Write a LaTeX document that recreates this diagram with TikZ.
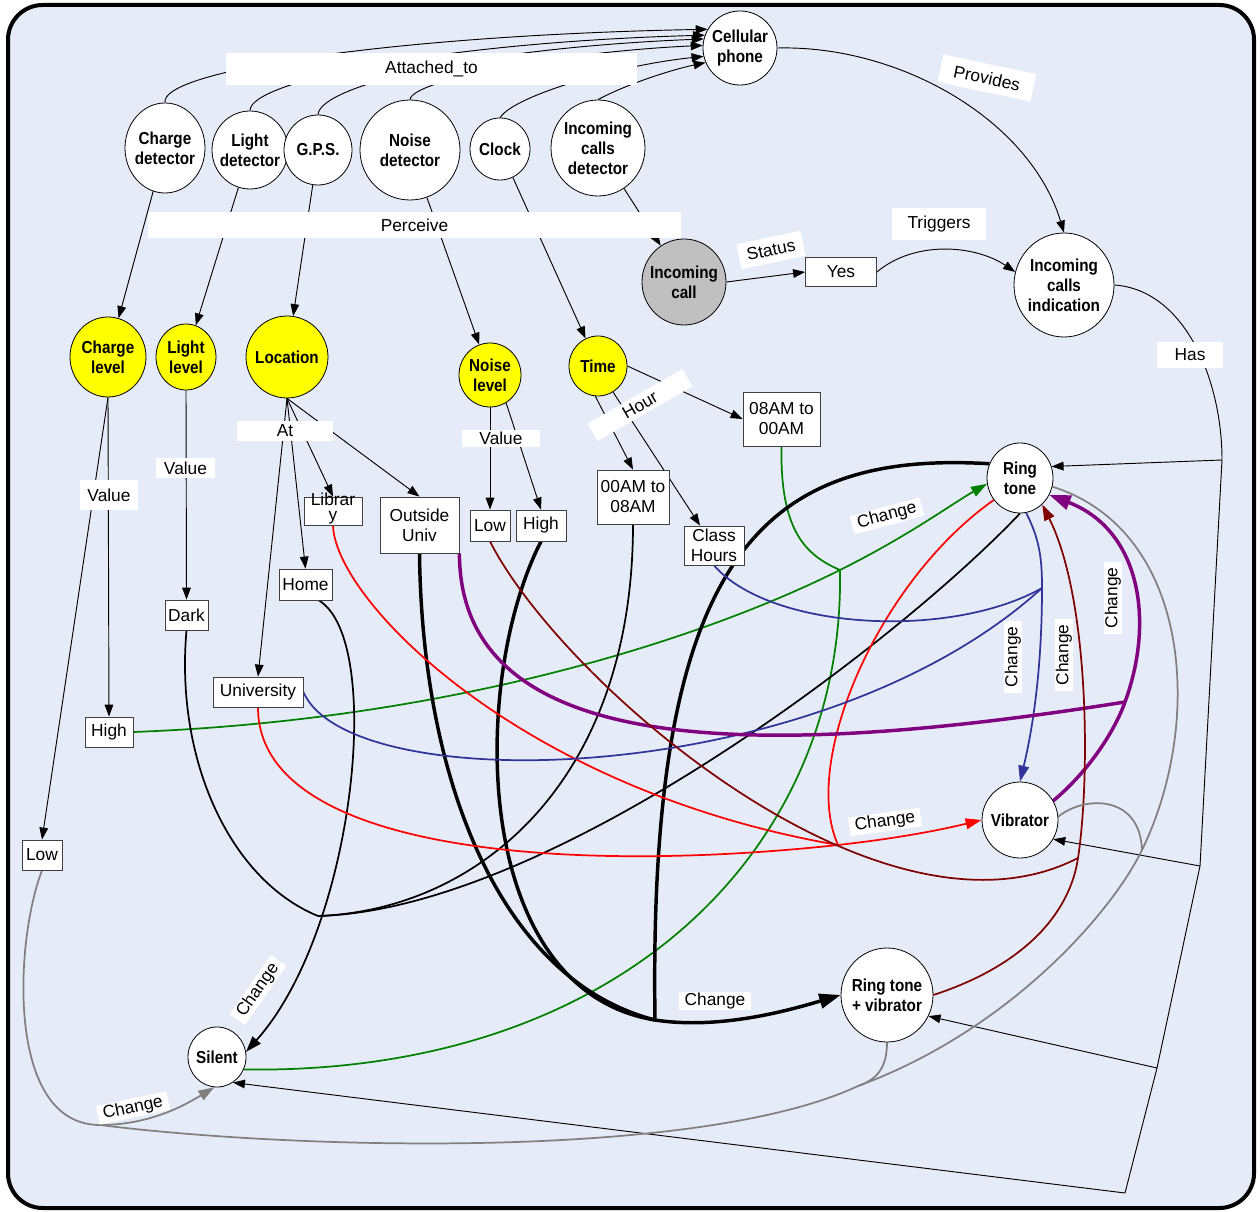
\documentclass[tikz,border=0pt]{standalone}
\usepackage{fontspec}
\setmainfont{Liberation Sans}
\newfontfamily\circfont[FakeStretch=0.88]{Liberation Sans}
\usetikzlibrary{shapes.geometric,arrows.meta}
\definecolor{bgblue}{RGB}{230,236,247}
\definecolor{cgreen}{RGB}{0,128,0}
\definecolor{cred}{RGB}{255,0,0}
\definecolor{cblue}{RGB}{51,51,153}
\definecolor{cpurple}{RGB}{128,0,128}
\definecolor{cmaroon}{RGB}{128,0,0}
\definecolor{cgray}{RGB}{128,128,128}
\definecolor{cgnode}{RGB}{192,192,192}
\definecolor{cyel}{RGB}{255,255,0}
\pgfdeclarelayer{bg}\pgfdeclarelayer{edges}\pgfsetlayers{bg,edges,main}
\newcommand\fsz{\fontsize{13}{15}\selectfont}
\newcommand\csz{\circfont\bfseries\fontsize{13}{15}\selectfont}
\begin{document}
\begin{tikzpicture}[x=0.75pt,y=-0.75pt,
 txt/.style={font=\fsz, align=center, inner sep=0pt, text=black},
 ov/.style={txt, font=\csz, ellipse, draw=black, line width=0.6pt, fill=white, inner sep=-6pt},
 yov/.style={ov, fill=cyel},
 vbox/.style={txt, rectangle, draw=black!75, line width=0.6pt, fill=white},
 lbl/.style={txt, rectangle, fill=white},
 myarr/.style={-{Triangle[length=9pt,width=6.5pt]}},
 myarrc/.style={-{Triangle[length=12pt,width=8pt]}},
 myarrk/.style={-{Triangle[length=16pt,width=11pt]}},
 cthin/.style={line width=0.7pt},
 cmid/.style={line width=1.3pt},
 cthk/.style={line width=2.6pt},
]
\begin{pgfonlayer}{bg}
\fill[white] (0,0) rectangle (1260,1212);
\draw[line width=3pt, fill=bgblue, rounded corners=26pt] (8,5) rectangle (1254,1208);
\end{pgfonlayer}
\useasboundingbox (0,0) rectangle (1260,1212);

% ---------- ellipse nodes ----------
\node[ov, minimum width=55.5pt, minimum height=55.5pt] (cp) at (740,48) {Cellular\\phone};
\node[ov, minimum width=60pt, minimum height=67.5pt] (cd) at (165,148) {Charge\\detector};
\node[ov, minimum width=57pt, minimum height=58.5pt] (ld) at (250,150) {Light\\detector};
\node[ov, minimum width=51pt, minimum height=52.5pt] (gps) at (318,150) {G.P.S.};
\node[ov, minimum width=75pt, minimum height=75pt] (nd) at (410,150) {Noise\\detector};
\node[ov, minimum width=45pt, minimum height=46.5pt] (clk) at (500,149) {Clock};
\node[ov, minimum width=70.5pt, minimum height=72pt] (icd) at (598,148) {Incoming\\calls\\detector};

\node[yov, minimum width=57pt, minimum height=60pt] (cl) at (108,357) {Charge\\level};
\node[yov, minimum width=45pt, minimum height=49.5pt] (ll) at (186,357) {Light\\level};
\node[yov, minimum width=61.5pt, minimum height=61.5pt] (loc) at (287,357) {Location};
\node[yov, minimum width=46.5pt, minimum height=48pt] (nl) at (490,375) {Noise\\level};
\node[yov, minimum width=43.5pt, minimum height=45pt] (tim) at (598,366) {Time};
\node[ov, fill=cgnode, minimum width=63pt, minimum height=64.5pt] (ic) at (684,282) {Incoming\\call};
\node[ov, minimum width=75pt, minimum height=78pt] (ici) at (1064,285) {Incoming\\calls\\indication};
\node[ov, minimum width=49.5pt, minimum height=52.5pt] (rt) at (1020,478) {Ring\\tone};
\node[ov, minimum width=57pt, minimum height=57pt] (vib) at (1020,820) {Vibrator};
\node[ov, minimum width=69pt, minimum height=70.5pt] (rtv) at (887,995) {Ring tone\\+ vibrator};
\node[ov, minimum width=43.5pt, minimum height=45pt] (sil) at (217,1057) {Silent};

% ---------- value boxes ----------
\node[vbox, minimum width=53.25pt, minimum height=21.75pt] (yes) at (841,272) {Yes};
\node[vbox, minimum width=57.75pt, minimum height=40.5pt] (t0800) at (781.5,419) {08AM to\\00AM};
\node[vbox, minimum width=54pt, minimum height=40.5pt] (t0008) at (633,497) {00AM to\\08AM};
\node[vbox, minimum width=45pt, minimum height=29.25pt] (cls) at (714,545.5) {Class\\Hours};
\node[vbox, minimum width=43.5pt, minimum height=21pt] (lib) at (333,511) {\raisebox{-7pt}[0pt][0pt]{\shortstack{Librar\\[1pt]y}}};
\node[vbox, minimum width=59.25pt, minimum height=42pt] (out) at (419.5,525) {Outside\\Univ};
\node[vbox, minimum width=30pt, minimum height=23.25pt] (nlo) at (490,525.5) {Low};
\node[vbox, minimum width=37.5pt, minimum height=23.25pt] (nhi) at (541,525.5) {High};
\node[vbox, minimum width=39.75pt, minimum height=23.25pt] (home) at (305.5,584.5) {Home};
\node[vbox, minimum width=32.25pt, minimum height=22.5pt] (dark) at (186.5,615) {Dark};
\node[vbox, minimum width=67.5pt, minimum height=22.5pt] (univ) at (258,692) {University};
\node[vbox, minimum width=36pt, minimum height=22.5pt] (chi) at (109,732) {High};
\node[vbox, minimum width=30pt, minimum height=22.5pt] (clo) at (42,855) {Low};

% ---------- junctions ----------
\coordinate (h1) at (1222,460);
\coordinate (h2) at (1200,866);
\coordinate (h3) at (1157,1068);
\coordinate (h4) at (1125,1193);
\coordinate (j1) at (840,570);
\coordinate (j2) at (318,916);
\coordinate (j3) at (655,1020);
\coordinate (j4) at (838,845);
\coordinate (j5) at (1042,588);
\coordinate (j6) at (1125,702);
\coordinate (j7) at (1078,858);
\coordinate (j8) at (100,1125);
\coordinate (j9) at (858,1086);
\coordinate (j10) at (1142,850);

\begin{pgfonlayer}{edges}
% attached_to
\draw[cthin,myarr] (cd.north) .. controls (160,70) and (400,35) .. (cp.150);
\draw[cthin,myarr] (ld.north) .. controls (250,80) and (450,42) .. (cp.160);
\draw[cthin,myarr] (gps.north) .. controls (320,85) and (480,48) .. (cp.166);
\draw[cthin,myarr] (nd.north) .. controls (412,80) and (560,52) .. (cp.176);
\draw[cthin,myarr] (clk.north) .. controls (515,95) and (620,65) .. (cp.193);
\draw[cthin,myarr] (icd.north) .. controls (625,85) and (670,70) .. (cp.203);
% perceive
\draw[cthin,myarr] (cd) -- (cl);
\draw[cthin,myarr] (ld) -- (ll);
\draw[cthin,myarr] (gps) -- (loc);
\draw[cthin,myarr] (nd) -- (nl);
\draw[cthin,myarr] (clk) -- (tim);
\draw[cthin,myarr] (icd) -- (ic);
% status / triggers / provides
\draw[cthin,myarr] (ic.east) -- (yes.west);
\draw[cthin,myarr] (yes.east) .. controls (915,240) and (975,245) .. (ici.165);
\draw[cthin,myarr] (cp.east) .. controls (900,45) and (1030,120) .. (ici.north);
% has
\draw[cthin] (ici.east) .. controls (1185,290) and (1222,380) .. (h1) -- (h2) -- (h3) -- (h4);
\draw[cthin,myarr] (h1) -- (rt.20);
\draw[cthin,myarr] (h2) -- (vib.-30);
\draw[cthin,myarr] (h3) -- (rtv.-27);
\draw[cthin,myarr] (h4) -- (sil.-58);
% values
\draw[cthin,myarr] (cl.south) -- (chi.north);
\draw[cthin,myarr] (cl.south) -- (clo.north);
\draw[cthin,myarr] (ll.south) -- (dark.north);
\draw[cthin,myarr] (loc.south) -- (lib.north);
\draw[cthin,myarr] (loc.south) -- (out.north);
\draw[cthin,myarr] (loc.south) -- (home.north);
\draw[cthin,myarr] (loc.south) -- (univ.north);
\draw[cthin,myarr] (nl.south) -- (nlo.north);
\draw[cthin,myarr] (nl.-60) -- (nhi.north);
\draw[cthin,myarr] (tim.-95) -- (t0008.north);
\draw[cthin,myarr] (tim.-60) -- (cls.125);
\draw[cthin,myarr] (tim.east) -- (t0800.west);
% green
\draw[cmid,cgreen] (chi.east) .. controls (450,720) and (700,640) .. (j1);
\draw[cmid,cgreen,myarrc] (j1) .. controls (910,535) and (950,505) .. (rt.190);
\draw[cmid,cgreen] (t0800.south) .. controls (780,530) and (805,555) .. (j1);
\draw[cmid,cgreen] (j1) .. controls (845,850) and (620,1075) .. (sil.-25);
% black thin
\draw[cmid,myarrc] (home.-50) .. controls (385,640) and (355,930) .. (sil.10);
\draw[cmid] (dark.south) .. controls (175,760) and (230,880) .. (j2);
\draw[cmid] (j2) .. controls (480,910) and (633,780) .. (t0008.south);
\draw[cmid] (j2) .. controls (550,910) and (900,640) .. (rt.south);
% black thick
\draw[cthk] (out.south) .. controls (422,780) and (500,980) .. (j3);
\draw[cthk] (nhi.south) .. controls (470,680) and (470,990) .. (j3);
\draw[cthk] (rt.155) .. controls (760,450) and (648,560) .. (j3);
\draw[cthk,myarrk] (j3) .. controls (720,1030) and (790,1010) .. (rtv.west);
% red
\draw[cmid,cred] (univ.south) .. controls (258,850) and (560,875) .. (j4);
\draw[cmid,cred] (lib.south) .. controls (335,600) and (520,790) .. (j4);
\draw[cmid,cred] (rt.-140) .. controls (880,580) and (800,760) .. (j4);
\draw[cmid,cred,myarrc] (j4) .. controls (900,838) and (940,830) .. (vib.west);
% blue
\draw[cmid,cblue] (univ.east) .. controls (350,800) and (820,790) .. (j5);
\draw[cmid,cblue] (cls.south) .. controls (770,630) and (950,640) .. (j5);
\draw[cmid,cblue] (rt.-80) .. controls (1040,540) and (1042,560) .. (j5);
\draw[cmid,cblue,myarrc] (j5) .. controls (1042,680) and (1030,740) .. (vib.north);
% purple
\draw[cthk,cpurple] (out.south east) .. controls (460,760) and (760,760) .. (j6);
\draw[cthk,cpurple] (vib.30) .. controls (1090,770) and (1115,730) .. (j6);
\draw[cthk,cpurple,myarrk] (j6) .. controls (1155,620) and (1140,530) .. (rt.-30);
% maroon
\draw[cmid,cmaroon] (nlo.south) .. controls (560,680) and (880,960) .. (j7);
\draw[cmid,cmaroon] (rtv.east) .. controls (1040,960) and (1072,900) .. (j7);
\draw[cmid,cmaroon,myarrc] (j7) .. controls (1090,780) and (1090,600) .. (rt.-50);
% gray
\draw[cmid,cgray] (clo.south) .. controls (15,940) and (5,1125) .. (j8);
\draw[cmid,cgray,myarrc] (j8) .. controls (150,1125) and (185,1105) .. (sil.-95);
\draw[cmid,cgray] (rt.-15) .. controls (1190,530) and (1205,720) .. (j10);
\draw[cmid,cgray] (j10) .. controls (1112,912) and (1010,1030) .. (j9);
\draw[cmid,cgray] (j9) .. controls (700,1160) and (300,1150) .. (j8);
\draw[cmid,cgray] (vib.5) .. controls (1085,795) and (1140,795) .. (j10);
\draw[cmid,cgray] (rtv.south) .. controls (887,1070) and (875,1080) .. (j9);
\end{pgfonlayer}

% ---------- labels ----------
\node[lbl, minimum width=308.25pt, minimum height=24pt] (latt) at (431.5,69) {Attached\_to};
\node[lbl, minimum width=399.75pt, minimum height=19.5pt] (lper) at (414.5,225) {Perceive};
\node[lbl, minimum width=71pt, minimum height=21pt, rotate=-12] (lprov) at (987,78) {Provides};
\node[lbl, minimum width=49pt, minimum height=19pt, rotate=12] (lstat) at (771,250) {Status};
\node[lbl, minimum width=70.5pt, minimum height=24pt] (ltrig) at (939,224) {Triggers};
\node[lbl, minimum width=49.5pt, minimum height=19.5pt] (lhas) at (1190,355) {Has};
\node[lbl, minimum width=43.5pt, minimum height=22.5pt] (lv1) at (109,495) {Value};
\node[lbl, minimum width=44pt, minimum height=15pt] (lv2) at (185.5,468) {Value};
\node[lbl, minimum width=72pt, minimum height=15pt] (lat) at (285,431) {At};
\node[lbl, minimum width=58.5pt, minimum height=12.75pt] (lv3) at (501,438.5) {Value};
\node[lbl, minimum width=82pt, minimum height=15pt, rotate=30] (lhour) at (640,405) {Hour};
\node[lbl, minimum width=54pt, minimum height=14pt, rotate=15] (lc1) at (887,516) {Change};
\node[lbl, minimum width=54pt, minimum height=14pt, rotate=90] (lc2) at (1013,657) {Change};
\node[lbl, minimum width=54pt, minimum height=14pt, rotate=90] (lc3) at (1064,655) {Change};
\node[lbl, minimum width=54pt, minimum height=14pt, rotate=90] (lc4) at (1113,598) {Change};
\node[lbl, minimum width=54pt, minimum height=14pt, rotate=8] (lc5) at (885,822) {Change};
\node[lbl, minimum width=54pt, minimum height=14pt] (lc6) at (715,1001) {Change};
\node[lbl, minimum width=54pt, minimum height=14pt, rotate=55] (lc7) at (258,990) {Change};
\node[lbl, minimum width=54pt, minimum height=14pt, rotate=12] (lc8) at (133,1108) {Change};
\end{tikzpicture}
\end{document}
